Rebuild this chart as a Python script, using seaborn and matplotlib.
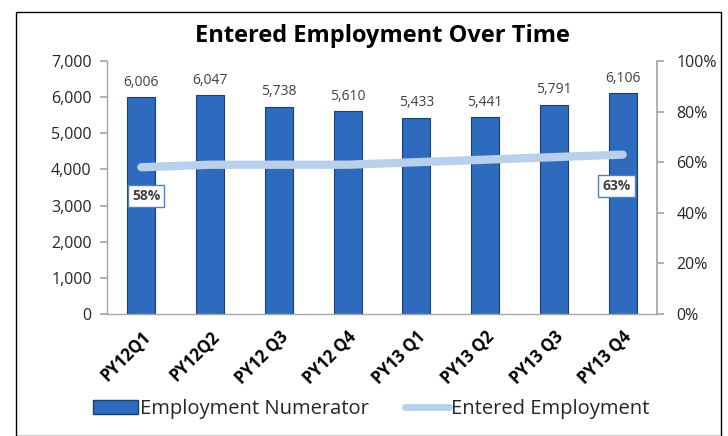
import matplotlib
matplotlib.use("Agg")
import matplotlib.pyplot as plt
import matplotlib.ticker as mticker
from matplotlib.patches import Rectangle
import seaborn as sns
import numpy as np
import pandas as pd

# chart values
quarters = ["PY12Q1", "PY12Q2", "PY12 Q3", "PY12 Q4", "PY13 Q1", "PY13 Q2", "PY13 Q3", "PY13 Q4"]
numerator = [6006, 6047, 5738, 5610, 5433, 5441, 5791, 6106]
entered_rate = [0.58, 0.59, 0.59, 0.59, 0.60, 0.61, 0.62, 0.63]
labelled_points = [0, 7]

df = pd.DataFrame({"quarter": quarters, "numerator": numerator, "rate": entered_rate})
df["pos"] = np.arange(len(df))

sns.set_theme(style="white")
plt.rcParams["font.family"] = ["Open Sans", "DejaVu Sans"]

bar_col = "#2E6BBE"
line_col = "#B8D0EB"
axis_col = "#A6A6A6"

fig = plt.figure(figsize=(7.28, 4.36), dpi=100)
ax = fig.add_axes([0.147, 0.280, 0.7555, 0.580])

sns.barplot(data=df, x="pos", y="numerator", color=bar_col, width=0.41,
            edgecolor="#1A3F73", linewidth=0.8, saturation=1, ax=ax)
ax.set_xlim(-0.5, len(df) - 0.5)
ax.set_ylim(0, 7000)
ax.yaxis.set_major_locator(mticker.MultipleLocator(1000))
ax.yaxis.set_major_formatter(mticker.FuncFormatter(lambda v, p: f"{int(v):,}"))

# value labels above bars
for i, v in enumerate(numerator):
    ax.text(i, v + 200, f"{v:,}", ha="center", va="bottom", fontsize=10, color="#404040")

ax.set_xlabel("")
ax.set_ylabel("")
ax.set_xticks(df["pos"])
ax.set_xticklabels(quarters, rotation=45, ha="right", rotation_mode="anchor",
                   fontsize=12, fontweight="bold", color="black")
ax.set_xticks(np.arange(len(df) + 1) - 0.5, minor=True)
ax.tick_params(axis="x", which="major", length=0, pad=10)
ax.tick_params(axis="x", which="minor", length=5, color=axis_col, direction="out")
ax.tick_params(axis="y", length=5, color=axis_col, direction="out", labelsize=11.5, pad=6, left=True)

for s in ["top", "right"]:
    ax.spines[s].set_visible(False)
for s in ["left", "bottom"]:
    ax.spines[s].set_color(axis_col)
    ax.spines[s].set_linewidth(1)

# secondary axis: entered employment rate
ax2 = ax.twinx()
sns.lineplot(data=df, x="pos", y="rate", color=line_col, linewidth=6,
             solid_capstyle="round", ax=ax2, legend=False)
ax2.set_ylim(0, 1)
ax2.yaxis.set_major_locator(mticker.MultipleLocator(0.2))
ax2.yaxis.set_major_formatter(mticker.PercentFormatter(1.0, decimals=0))
ax2.set_ylabel("")
ax2.tick_params(axis="y", length=5, color=axis_col, direction="out", labelsize=11.5, pad=9, right=True)
for s in ["top", "left", "bottom"]:
    ax2.spines[s].set_visible(False)
ax2.spines["right"].set_color(axis_col)

offsets = {0: (0.07, -0.114), 7: (-0.09, -0.124)}
for i in labelled_points:
    dx, dy = offsets[i]
    ax2.text(i + dx, entered_rate[i] + dy, f"{entered_rate[i]:.0%}", ha="center", va="center",
             fontsize=10, fontweight="bold", color="#404040",
             bbox=dict(boxstyle="square,pad=0.3", facecolor="white", edgecolor="#4F81BD", linewidth=1))

fig.text(0.525, 0.918, "Entered Employment Over Time", ha="center", va="center",
         fontsize=17, fontweight="bold", color="black")

handles = [Rectangle((0, 0), 1, 1, facecolor=bar_col, edgecolor="#1A3F73"),
           plt.Line2D([0], [0], color=line_col, linewidth=5)]
fig.legend(handles, ["Employment Numerator", "Entered Employment"], loc="center",
           bbox_to_anchor=(0.51, 0.062), ncol=2, frameon=False, fontsize=14.5,
           handlelength=2.2, handletextpad=0.1, columnspacing=1.8)

fig.patches.append(Rectangle((0.022, 0.0), 0.968, 0.972, transform=fig.transFigure,
                             fill=False, edgecolor="black", linewidth=1))

fig.savefig("out.png", dpi=100)
